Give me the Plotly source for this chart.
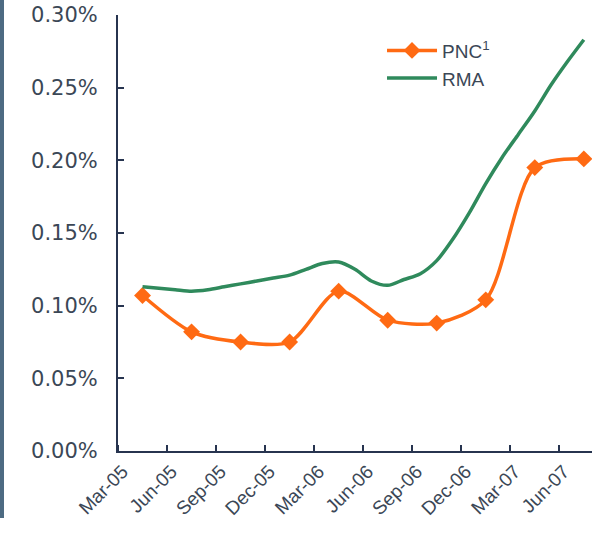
import plotly.graph_objects as go

# ---- data ----
months = ["Mar-05", "Apr-05", "May-05", "Jun-05", "Jul-05", "Aug-05", "Sep-05", "Oct-05",
          "Nov-05", "Dec-05", "Jan-06", "Feb-06", "Mar-06", "Apr-06", "May-06", "Jun-06",
          "Jul-06", "Aug-06", "Sep-06", "Oct-06", "Nov-06", "Dec-06", "Jan-07", "Feb-07",
          "Mar-07", "Apr-07", "May-07", "Jun-07"]
quarters = ["Mar-05", "Jun-05", "Sep-05", "Dec-05", "Mar-06", "Jun-06",
            "Sep-06", "Dec-06", "Mar-07", "Jun-07"]
pnc = [0.107, 0.082, 0.075, 0.075, 0.110, 0.090, 0.088, 0.104, 0.195, 0.201]  # %, quarterly
rma = [0.113, 0.112, 0.111, 0.110, 0.111, 0.113, 0.115, 0.117, 0.119, 0.121,
       0.125, 0.129, 0.130, 0.125, 0.117, 0.114, 0.118, 0.122, 0.131, 0.146,
       0.164, 0.184, 0.202, 0.218, 0.234, 0.252, 0.268, 0.283]  # %, monthly
y_ticks = [0.00, 0.05, 0.10, 0.15, 0.20, 0.25, 0.30]

month_idx = list(range(len(months)))
quarter_idx = [months.index(q) for q in quarters]

ORANGE = "#FF6A13"
GREEN = "#2F8A5C"
AXIS = "#27344F"
TEXT = "#3B4756"

fig = go.Figure()
fig.add_trace(go.Scatter(
    x=quarter_idx, y=pnc, name="PNC<sup>1</sup>", mode="lines+markers",
    line=dict(color=ORANGE, width=3.5, shape="spline", smoothing=0.8),
    marker=dict(symbol="diamond", size=13, color=ORANGE),
))
fig.add_trace(go.Scatter(
    x=month_idx, y=rma, name="RMA", mode="lines",
    line=dict(color=GREEN, width=3.5, shape="spline", smoothing=0.8),
))

fig.update_layout(
    width=597, height=533,
    margin=dict(l=118, r=5, t=15, b=82, autoexpand=False),
    paper_bgcolor="white", plot_bgcolor="white",
    showlegend=True,
    legend=dict(x=0.557, y=0.962, xanchor="left", yanchor="top",
                font=dict(family="Liberation Sans, Arial", size=19, color=TEXT),
                bgcolor="rgba(0,0,0,0)", tracegroupgap=0, itemwidth=50),
    xaxis=dict(
        range=[-1.5, len(months) - 0.5], automargin=False,
        tickmode="array", tickvals=quarter_idx, ticktext=quarters,
        ticks="", tickangle=-45, ticklabelshift=-20,
        tickfont=dict(family="Liberation Sans, Arial", size=19, color=TEXT),
        showline=True, linecolor=AXIS, linewidth=2,
        showgrid=False, zeroline=False,
        minor=dict(tickmode="linear", tick0=-1.5, dtick=3, ticks="inside",
                   ticklen=6, tickwidth=2, tickcolor=AXIS, showgrid=False),
    ),
    yaxis=dict(
        range=[0, 0.30], automargin=False,
        tickmode="array", tickvals=y_ticks,
        ticktext=[f"{v:.2f}%" for v in y_ticks],
        ticks="inside", ticklen=6, tickwidth=2, tickcolor=AXIS,
        ticklabelstandoff=14,
        tickfont=dict(family="DejaVu Sans, Verdana", size=21, color=TEXT),
        showline=True, linecolor=AXIS, linewidth=2,
        showgrid=False, zeroline=False,
    ),
    shapes=[dict(type="line", xref="paper", yref="paper",
                 x0=-116 / 474, x1=-116 / 474,
                 y0=(451 - 518) / 436, y1=(451 - 0) / 436,
                 line=dict(color="#4D6B82", width=4))],
)

fig.write_html("out.html", config={"displayModeBar": False},
               post_script="document.body.style.margin='0';")
